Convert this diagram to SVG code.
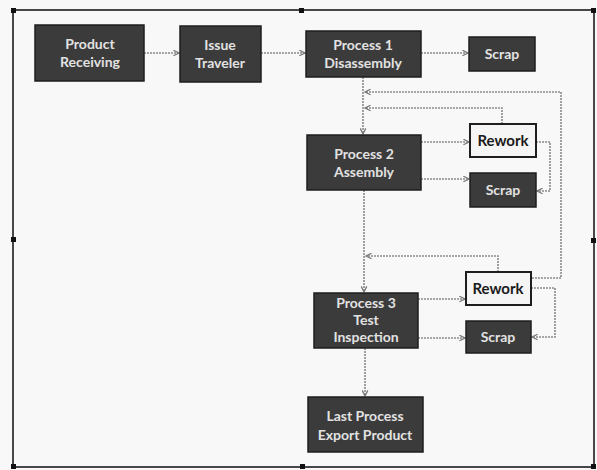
<svg xmlns="http://www.w3.org/2000/svg" width="597" height="470" viewBox="0 0 597 470">
<style>
.dark rect{fill:#3b3b3b;stroke:#1e1e1e;stroke-width:1.5}
.light rect{fill:#f5f5f5;stroke:#1e1e1e;stroke-width:2}
.dark text{fill:#e2e2e2;font-family:Lato,"Liberation Sans",sans-serif;font-weight:bold;font-size:14px;text-anchor:middle}
.light text{fill:#1a1a1a;font-family:Lato,"Liberation Sans",sans-serif;font-weight:bold;font-size:15px;text-anchor:middle}
#connectors path{fill:none;stroke:#8a8a8a;stroke-width:1.6;stroke-dasharray:2 1}
.handle{fill:#111}
</style>
<defs>
<marker id="arr" viewBox="0 0 10 10" refX="9" refY="5" markerWidth="7" markerHeight="7" orient="auto" markerUnits="userSpaceOnUse">
<path d="M1,1 L9,5 L1,9" fill="none" stroke="#777" stroke-width="1.8"/>
</marker>
</defs>
<rect x="0" y="0" width="597" height="470" fill="#f8f8f8"/>
<g id="frame">
<rect x="13" y="10" width="581" height="457" fill="none" stroke="#1c1c1c" stroke-width="1.6"/>
<rect class="handle" x="11" y="8" width="5" height="5"/>
<rect class="handle" x="299" y="8" width="5" height="5"/>
<rect class="handle" x="591" y="8" width="5" height="5"/>
<rect class="handle" x="11" y="237" width="5" height="5"/>
<rect class="handle" x="591" y="238" width="5" height="5"/>
<rect class="handle" x="11" y="464" width="5" height="5"/>
<rect class="handle" x="300" y="464" width="5" height="5"/>
<rect class="handle" x="591" y="464" width="5" height="5"/>
</g>
<g id="connectors">
<path d="M144,53 H179" marker-end="url(#arr)"/>
<path d="M261,53 H305" marker-end="url(#arr)"/>
<path d="M421,53 H468" marker-end="url(#arr)"/>
<path d="M363,77 V134" marker-end="url(#arr)"/>
<path d="M532,278 H561 V92 H365" marker-end="url(#arr)"/>
<path d="M502,124 V108 H365" marker-end="url(#arr)"/>
<path d="M421,142 H469" marker-end="url(#arr)"/>
<path d="M536,142 H550 V191 H537" marker-end="url(#arr)"/>
<path d="M421,179 H469" marker-end="url(#arr)"/>
<path d="M364,190 V292" marker-end="url(#arr)"/>
<path d="M498,272 V256 H366" marker-end="url(#arr)"/>
<path d="M418,299 H465" marker-end="url(#arr)"/>
<path d="M531,288 H555 V337 H532" marker-end="url(#arr)"/>
<path d="M418,338 H465" marker-end="url(#arr)"/>
<path d="M365,348 V396" marker-end="url(#arr)"/>
</g>
<g id="product-receiving" class="dark">
<rect x="35" y="25" width="109" height="56"/>
<text x="90" y="49">Product</text>
<text x="90" y="67">Receiving</text>
</g>
<g id="issue-traveler" class="dark">
<rect x="180" y="26" width="81" height="56"/>
<text x="220" y="50">Issue</text>
<text x="220" y="68">Traveler</text>
</g>
<g id="process1" class="dark">
<rect x="306" y="31" width="115" height="46"/>
<text x="363" y="50">Process 1</text>
<text x="363" y="68">Disassembly</text>
</g>
<g id="scrap1" class="dark">
<rect x="469" y="37" width="66" height="34"/>
<text x="502" y="59">Scrap</text>
</g>
<g id="rework1" class="light">
<rect x="470" y="124" width="66" height="33"/>
<text x="503" y="146">Rework</text>
</g>
<g id="process2" class="dark">
<rect x="307" y="135" width="114" height="55"/>
<text x="364" y="159">Process 2</text>
<text x="364" y="177">Assembly</text>
</g>
<g id="scrap2" class="dark">
<rect x="470" y="173" width="66" height="34"/>
<text x="503" y="195">Scrap</text>
</g>
<g id="rework2" class="light">
<rect x="466" y="272" width="65" height="33"/>
<text x="498" y="294">Rework</text>
</g>
<g id="process3" class="dark">
<rect x="314" y="293" width="104" height="55"/>
<text x="366" y="308">Process 3</text>
<text x="366" y="325">Test</text>
<text x="366" y="342">Inspection</text>
</g>
<g id="scrap3" class="dark">
<rect x="466" y="321" width="65" height="32"/>
<text x="498" y="342">Scrap</text>
</g>
<g id="last-process" class="dark">
<rect x="308" y="397" width="115" height="55"/>
<text x="365" y="421">Last Process</text>
<text x="365" y="440">Export Product</text>
</g>
</svg>
